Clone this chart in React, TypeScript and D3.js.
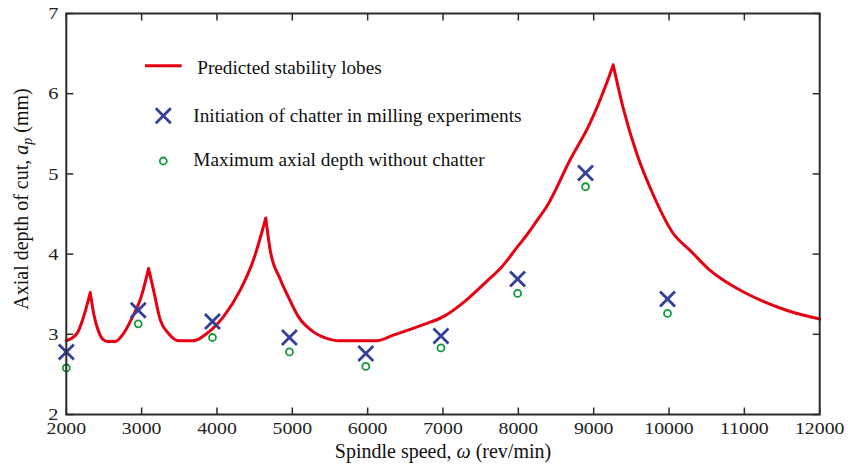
import React from "react";
import * as d3 from "d3";

const lobeSpeed = [2000, 2142, 2230, 2318, 2363, 2430, 2495, 2550, 2650, 2760, 2870, 2981, 3092, 3158, 3247, 3357, 3490, 3690, 3866, 4087, 4308, 4485, 4648, 4706, 4838, 4950, 5080, 5279, 5456, 5611, 6120, 6341, 6739, 7004, 7314, 7580, 7779, 8021, 8065, 8286, 8375, 8684, 8950, 9171, 9259, 9392, 9569, 9790, 10054, 10276, 10541, 10983, 11204, 11558, 12000];
const lobeDepth = [2.92, 3.01, 3.22, 3.52, 3.26, 3.03, 2.93, 2.91, 2.91, 3.01, 3.2, 3.43, 3.82, 3.55, 3.18, 3.01, 2.92, 2.92, 3.01, 3.22, 3.55, 3.93, 4.45, 4.05, 3.69, 3.46, 3.22, 3.03, 2.95, 2.92, 2.92, 2.99, 3.12, 3.22, 3.43, 3.66, 3.84, 4.13, 4.18, 4.47, 4.59, 5.17, 5.63, 6.13, 6.36, 5.82, 5.26, 4.74, 4.26, 4.05, 3.8, 3.53, 3.43, 3.3, 3.19];
// speeds at which the lobes meet in a sharp cusp
const cuspSpeed = [2318, 3092, 4648, 9259];

const chatterSpeed = [2000, 2955, 3940, 4962, 5975, 6973, 7990, 8892, 9980];
const chatterDepth = [2.78, 3.3, 3.16, 2.96, 2.76, 2.98, 3.69, 5.01, 3.44];
const stableSpeed = [2000, 2955, 3940, 4962, 5975, 6973, 7990, 8892, 9980];
const stableDepth = [2.58, 3.13, 2.96, 2.78, 2.6, 2.83, 3.51, 4.84, 3.26];

const xTicks = [2000, 3000, 4000, 5000, 6000, 7000, 8000, 9000, 10000, 11000, 12000];
const yTicks = [2, 3, 4, 5, 6, 7];

const legendLabels = [
  "Predicted stability lobes",
  "Initiation of chatter in milling experiments",
  "Maximum axial depth without chatter",
];

const RED = "#e60012";
const BLUE = "#33409a";
const GREEN = "#119a3a";
const AXIS = "#2b2b2b";
const FONT = "'Liberation Serif', 'Times New Roman', serif";

export default function App() {
  const W = 859, H = 465;
  const x = d3.scaleLinear().domain([2000, 12000]).range([66.3, 819.7]);
  const y = d3.scaleLinear().domain([2, 7]).range([414.5, 13.5]);
  const lobes = lobeSpeed.map((s, i) => [s, lobeDepth[i]] as [number, number]);
  const line = d3.line<[number, number]>().x(d => x(d[0])).y(d => y(d[1])).curve(d3.curveMonotoneX);
  // split at cusps so each lobe is smooth and cusps stay sharp
  const segments: [number, number][][] = [];
  let cur: [number, number][] = [];
  lobes.forEach(p => {
    cur.push(p);
    if (cuspSpeed.includes(p[0])) {
      segments.push(cur);
      cur = [p];
    }
  });
  if (cur.length > 1) segments.push(cur);
  const pathD = segments.map(s => line(s) || "").join("");
  const tickLen = 7;
  const xs = 7.5;
  const cross = (cx: number, cy: number, key: string) => (
    <g key={key} stroke={BLUE} strokeWidth={2.8} strokeLinecap="butt">
      <line x1={cx - xs} y1={cy - xs} x2={cx + xs} y2={cy + xs} />
      <line x1={cx - xs} y1={cy + xs} x2={cx + xs} y2={cy - xs} />
    </g>
  );
  const [x0, x1] = x.range();
  const [y0, y1] = y.range();
  return (
    <svg width={W} height={H} style={{ position: "absolute", left: 0, top: 0, background: "#fff" }} fontFamily={FONT}>
      {/* curve */}
      <path d={pathD} fill="none" stroke={RED} strokeWidth={3} strokeLinejoin="round" strokeLinecap="round" />
      {/* markers */}
      {chatterSpeed.map((s, i) => cross(x(s), y(chatterDepth[i]), "c" + i))}
      {stableSpeed.map((s, i) => (
        <circle key={"s" + i} cx={x(s)} cy={y(stableDepth[i])} r={3.5} fill="none" stroke={GREEN} strokeWidth={1.8} />
      ))}
      {/* frame */}
      <rect x={x0} y={y1} width={x1 - x0} height={y0 - y1} fill="none" stroke={AXIS} strokeWidth={2} />
      {xTicks.map(t => (
        <g key={"xt" + t}>
          <line x1={x(t)} x2={x(t)} y1={y0} y2={y0 - tickLen} stroke={AXIS} strokeWidth={1.5} />
          <line x1={x(t)} x2={x(t)} y1={y1} y2={y1 + tickLen} stroke={AXIS} strokeWidth={1.5} />
          <g transform={`translate(${x(t)},434) scale(1.2,1)`}>
            <text textAnchor="middle" fontSize={16.5} fill="#222">{t}</text>
          </g>
        </g>
      ))}
      {yTicks.map(t => (
        <g key={"yt" + t}>
          <line x1={x0} x2={x0 + tickLen} y1={y(t)} y2={y(t)} stroke={AXIS} strokeWidth={1.5} />
          <line x1={x1} x2={x1 - tickLen} y1={y(t)} y2={y(t)} stroke={AXIS} strokeWidth={1.5} />
          <g transform={`translate(58.5,${y(t)}) scale(1.2,1)`}>
            <text textAnchor="end" dy="0.33em" fontSize={17} fill="#222">{t}</text>
          </g>
        </g>
      ))}
      {/* axis labels */}
      <text x={443} y={457.5} textAnchor="middle" fontSize={20} fill="#111">
        Spindle speed, <tspan fontStyle="italic">ω</tspan> (rev/min)
      </text>
      <text transform="translate(27.5,199) rotate(-90)" textAnchor="middle" fontSize={20} fill="#111">
        Axial depth of cut, <tspan fontStyle="italic">a</tspan>
        <tspan fontStyle="italic" fontSize={14} dy={4}>p</tspan>
        <tspan dy={-4}> (mm)</tspan>
      </text>
      {/* legend */}
      <line x1={145} x2={181.7} y1={65.7} y2={65.7} stroke={RED} strokeWidth={3} />
      <text x={197.3} y={74.3} fontSize={19.2} fill="#111">{legendLabels[0]}</text>
      {cross(163.3, 115.7, "lc")}
      <text x={193.3} y={122.3} fontSize={19.3} fill="#111">{legendLabels[1]}</text>
      <circle cx={163.3} cy={161} r={3.5} fill="none" stroke={GREEN} strokeWidth={1.8} />
      <text x={193.3} y={165.7} fontSize={19.3} fill="#111">{legendLabels[2]}</text>
    </svg>
  );
}
